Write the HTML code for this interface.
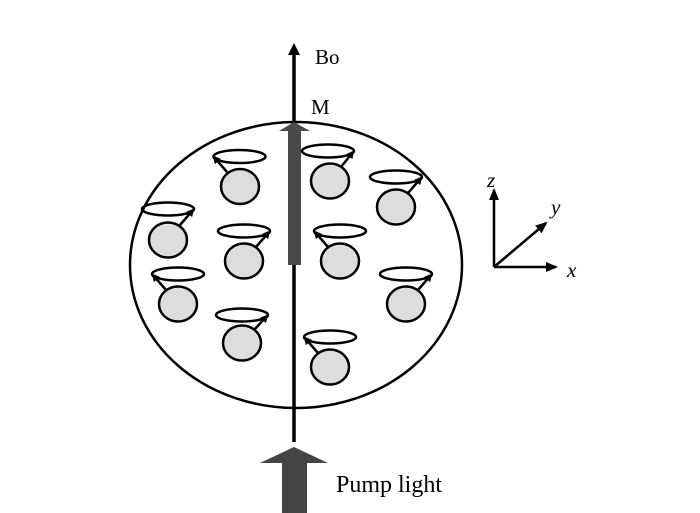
<!DOCTYPE html>
<html><head><style>body{margin:0;background:#fff}svg{display:block}</style></head>
<body>
<svg width="700" height="513" viewBox="0 0 700 513" xmlns="http://www.w3.org/2000/svg" font-family="Liberation Serif, serif">
<defs>
<marker id="ah" markerWidth="8" markerHeight="8" refX="6" refY="4" orient="auto" markerUnits="userSpaceOnUse"><path d="M0,0 L8,4 L0,8 Z" fill="#000"/></marker>
<marker id="ax" markerWidth="12" markerHeight="10" refX="10" refY="5" orient="auto" markerUnits="userSpaceOnUse"><path d="M0,0 L12,5 L0,10 Z" fill="#000"/></marker>
</defs>
<ellipse cx="296" cy="265" rx="166" ry="143" fill="none" stroke="#000" stroke-width="2.5"/>
<line x1="294" y1="52" x2="294" y2="442" stroke="#000" stroke-width="3.5"/>
<path d="M294,43 L288,55 L300,55 Z" fill="#000"/>
<rect x="288" y="130" width="13" height="135" fill="#4a4a4a"/>
<path d="M294,122 L279,131 L310,131 Z" fill="#4a4a4a"/>
<text x="315" y="64" font-size="21">Bo</text>
<text x="311" y="114" font-size="21">M</text>
<path d="M294,447 L260,463 L282,463 L282,513 L307,513 L307,463 L328,463 Z" fill="#444"/>
<text x="336" y="492" font-size="24">Pump light</text>
<g stroke="#000" stroke-width="2.5" fill="none">
<line x1="494" y1="267" x2="494" y2="190" marker-end="url(#ax)"/>
<line x1="494" y1="267" x2="556" y2="267" marker-end="url(#ax)"/>
<line x1="494" y1="267" x2="546" y2="223" marker-end="url(#ax)"/>
</g>
<g font-size="21" font-style="italic">
<text x="487" y="187">z</text>
<text x="551" y="214">y</text>
<text x="567" y="277">x</text>
</g>
<g stroke="#000" stroke-width="2.5">
<!-- spins: cx, ringcy, dir -->
<g id="s1">
<ellipse cx="239.5" cy="156.5" rx="26" ry="6.5" fill="none"/>
<ellipse cx="240" cy="186.5" rx="19" ry="17.5" fill="#ddd"/>
<line x1="227" y1="172" x2="214" y2="157" marker-end="url(#ah)"/>
</g>
<ellipse cx="328" cy="151" rx="26" ry="6.5" fill="none"/>
<ellipse cx="330" cy="181" rx="19" ry="17.5" fill="#ddd"/>
<line x1="341" y1="167" x2="353" y2="152" marker-end="url(#ah)"/>
<ellipse cx="396" cy="177" rx="26" ry="6.5" fill="none"/>
<ellipse cx="396" cy="207" rx="19" ry="17.5" fill="#ddd"/>
<line x1="408" y1="193" x2="421" y2="178" marker-end="url(#ah)"/>
<ellipse cx="168" cy="209" rx="26" ry="6.5" fill="none"/>
<ellipse cx="168" cy="240" rx="19" ry="17.5" fill="#ddd"/>
<line x1="180" y1="225" x2="193" y2="210" marker-end="url(#ah)"/>
<ellipse cx="244" cy="231" rx="26" ry="6.5" fill="none"/>
<ellipse cx="244" cy="261" rx="19" ry="17.5" fill="#ddd"/>
<line x1="256" y1="247" x2="269" y2="232" marker-end="url(#ah)"/>
<ellipse cx="340" cy="231" rx="26" ry="6.5" fill="none"/>
<ellipse cx="340" cy="261" rx="19" ry="17.5" fill="#ddd"/>
<line x1="328" y1="247" x2="315" y2="232" marker-end="url(#ah)"/>
<ellipse cx="178" cy="274" rx="26" ry="6.5" fill="none"/>
<ellipse cx="178" cy="304" rx="19" ry="17.5" fill="#ddd"/>
<line x1="166" y1="290" x2="153" y2="275" marker-end="url(#ah)"/>
<ellipse cx="406" cy="274" rx="26" ry="6.5" fill="none"/>
<ellipse cx="406" cy="304" rx="19" ry="17.5" fill="#ddd"/>
<line x1="418" y1="290" x2="431" y2="275" marker-end="url(#ah)"/>
<ellipse cx="242" cy="315" rx="26" ry="6.5" fill="none"/>
<ellipse cx="242" cy="343" rx="19" ry="17.5" fill="#ddd"/>
<line x1="254" y1="330" x2="267" y2="316" marker-end="url(#ah)"/>
<ellipse cx="330" cy="337" rx="26" ry="6.5" fill="none"/>
<ellipse cx="330" cy="367" rx="19" ry="17.5" fill="#ddd"/>
<line x1="318" y1="353" x2="305" y2="338" marker-end="url(#ah)"/>
</g>
</svg>
</body></html>
